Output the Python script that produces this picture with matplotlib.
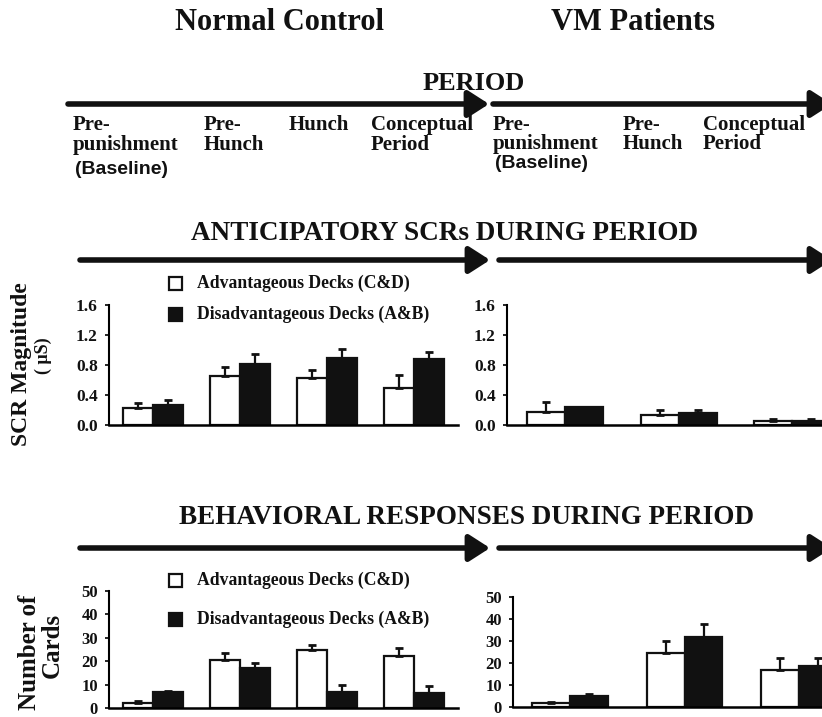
import numpy as np;

from matplotlib import pyplot as plt;

from matplotlib.patches import Rectangle;

# data
groups_nc = [ "Pre-punishment", "Pre-Hunch", "Hunch", "Conceptual" ];
groups_vm = [ "Pre-punishment", "Pre-Hunch", "Conceptual" ];

scr_nc_adv = [ 0.23, 0.65, 0.63, 0.50 ];
scr_nc_adv_err = [ 0.07, 0.13, 0.11, 0.17 ];
scr_nc_dis = [ 0.27, 0.82, 0.90, 0.88 ];
scr_nc_dis_err = [ 0.07, 0.13, 0.12, 0.10 ];

scr_vm_adv = [ 0.18, 0.13, 0.06 ];
scr_vm_adv_err = [ 0.13, 0.07, 0.015 ];
scr_vm_dis = [ 0.235, 0.155, 0.06 ];
scr_vm_dis_err = [ 0.01, 0.045, 0.02 ];

beh_nc_adv = [ 2.1, 20.3, 25.0, 22.4 ];
beh_nc_adv_err = [ 0.8, 3.0, 1.9, 3.1 ];
beh_nc_dis = [ 6.8, 16.9, 6.9, 6.2 ];
beh_nc_dis_err = [ 0.3, 2.3, 2.8, 3.1 ];

beh_vm_adv = [ 1.8, 24.7, 16.6 ];
beh_vm_adv_err = [ 0.7, 5.2, 5.5 ];
beh_vm_dis = [ 5.1, 31.6, 18.8 ];
beh_vm_dis_err = [ 0.8, 6.3, 3.3 ];

scr_ticks = [ 0.0, 0.4, 0.8, 1.2, 1.6 ];
beh_ticks = [ 0, 10, 20, 30, 40, 50 ];

W, H = 822, 717;
SERIF = "Liberation Serif";
SANS = "Liberation Sans";
INK = "#111111";

fig = plt.figure( figsize = ( W / 100, H / 100 ), dpi = 100 );

def box( x0, y0, x1, y1 ):
	# pixel box (left, top, right, bottom) -> figure fraction
	return [ x0 / W, 1 - y1 / H, ( x1 - x0 ) / W, ( y1 - y0 ) / H ];

def panel( rect, adv, adv_err, dis, dis_err, w, xlim, ticks, tsize, fmt ):
	ax = fig.add_axes( box( *rect ) );
	x = np.arange( len( adv ) );
	ax.bar( x - w / 2, adv, w, color = "white", edgecolor = INK, linewidth = 1.6 );
	ax.bar( x + w / 2, dis, w, color = INK, edgecolor = INK, linewidth = 1.6 );
	ax.errorbar( x - w / 2, adv, yerr = [ np.zeros( len( adv ) ), adv_err ],
				 fmt = "none", ecolor = INK, elinewidth = 1.6, capsize = 3, capthick = 2 );
	ax.errorbar( x + w / 2, dis, yerr = [ np.zeros( len( dis ) ), dis_err ],
				 fmt = "none", ecolor = INK, elinewidth = 1.6, capsize = 3, capthick = 2 );
	ax.set_xlim( *xlim );
	ax.set_ylim( ticks[ 0 ], ticks[ -1 ] );
	ax.set_yticks( ticks );
	ax.set_yticklabels( [ fmt.format( t ) for t in ticks ], fontfamily = SERIF,
						fontweight = "bold", fontsize = tsize, color = INK );
	ax.set_xticks( [] );
	ax.spines[ "top" ].set_visible( False );
	ax.spines[ "right" ].set_visible( False );
	ax.spines[ "left" ].set_linewidth( 1.5 );
	ax.spines[ "bottom" ].set_linewidth( 1.8 );
	ax.tick_params( axis = "y", direction = "out", length = 3, width = 1.2, pad = 5 );
	ax.patch.set_alpha( 0 );
	return ax;

# SCR panels
panel( ( 109, 305, 458, 425 ), scr_nc_adv, scr_nc_adv_err, scr_nc_dis, scr_nc_dis_err,
	   0.345, ( -0.51, 3.51 ), scr_ticks, 12.5, "{:.1f}" );
panel( ( 507, 305, 822, 425 ), scr_vm_adv, scr_vm_adv_err, scr_vm_dis, scr_vm_dis_err,
	   0.335, ( -0.51, 2.26 ), scr_ticks, 12.5, "{:.1f}" );

# behavioral panels
panel( ( 109, 591, 458, 708 ), beh_nc_adv, beh_nc_adv_err, beh_nc_dis, beh_nc_dis_err,
	   0.345, ( -0.51, 3.51 ), beh_ticks, 12, "{:d}" );
panel( ( 513, 597, 822, 707 ), beh_vm_adv, beh_vm_adv_err, beh_vm_dis, beh_vm_dis_err,
	   0.33, ( -0.5, 2.2 ), beh_ticks, 12, "{:d}" );

# overlay in pixel coordinates for headings, arrows, legends
ov = fig.add_axes( [ 0, 0, 1, 1 ] );
ov.set_xlim( 0, W );
ov.set_ylim( H, 0 );
ov.axis( "off" );
ov.patch.set_alpha( 0 );

def txt( x, y, s, size, ha = "left", family = SERIF, **kw ):
	ov.text( x, y, s, fontsize = size, fontfamily = family, fontweight = "bold",
			 ha = ha, va = "center", color = INK, **kw );

def arrow( x0, x1, y ):
	ov.annotate( "", xy = ( x1, y ), xytext = ( x0, y ),
				 arrowprops = dict( arrowstyle = "-|>,head_length=0.7,head_width=0.45",
									lw = 4, color = INK, mutation_scale = 18,
									shrinkA = 0, shrinkB = 0 ),
				 annotation_clip = False );

txt( 279, 22, "Normal Control", 22, ha = "center" );
txt( 633, 22, "VM Patients", 22, ha = "center" );

txt( 474, 83, "PERIOD", 19, ha = "center" );
arrow( 68, 489, 104 );
arrow( 493, 832, 104 );

# period labels
txt( 73, 125, "Pre-", 15 );
txt( 73, 145, "punishment", 15 );
txt( 75, 169, "(Baseline)", 14, family = SANS );
txt( 204, 125, "Pre-", 15 );
txt( 204, 145, "Hunch", 15 );
txt( 289, 125, "Hunch", 15 );
txt( 371, 125, "Conceptual", 15 );
txt( 371, 145, "Period", 15 );
txt( 493, 125, "Pre-", 15 );
txt( 493, 144, "punishment", 15 );
txt( 495, 164, "(Baseline)", 14, family = SANS );
txt( 623, 125, "Pre-", 15 );
txt( 623, 144, "Hunch", 15 );
txt( 703, 125, "Conceptual", 15 );
txt( 703, 144, "Period", 15 );

txt( 445, 233, "ANTICIPATORY SCRs DURING PERIOD", 19.5, ha = "center" );
arrow( 80, 490, 260 );
arrow( 499, 832, 260 );

txt( 467, 518, "BEHAVIORAL RESPONSES DURING PERIOD", 19.5, ha = "center" );
arrow( 80, 490, 548 );
arrow( 499, 832, 548 );

# y labels
txt( 22, 364, "SCR Magnitude", 17, ha = "center", rotation = 90 );
txt( 43, 356, "( μS)", 13, ha = "center", rotation = 90 );
txt( 30, 652, "Number of", 18, ha = "center", rotation = 90 );
txt( 52, 645, "Cards", 18, ha = "center", rotation = 90 );

# legends
def legend( y1, y2 ):
	ov.add_patch( Rectangle( ( 169, y1 - 6.5 ), 13, 13, facecolor = "white",
							 edgecolor = INK, lw = 1.6 ) );
	ov.add_patch( Rectangle( ( 169, y2 - 6.5 ), 13, 13, facecolor = INK,
							 edgecolor = INK, lw = 1.6 ) );
	txt( 197, y1, "Advantageous Decks (C&D)", 12.7 );
	txt( 197, y2, "Disadvantageous Decks (A&B)", 12.7 );

legend( 283, 314 );
legend( 580, 619 );

plt.savefig( "out.png", dpi = 100 );
